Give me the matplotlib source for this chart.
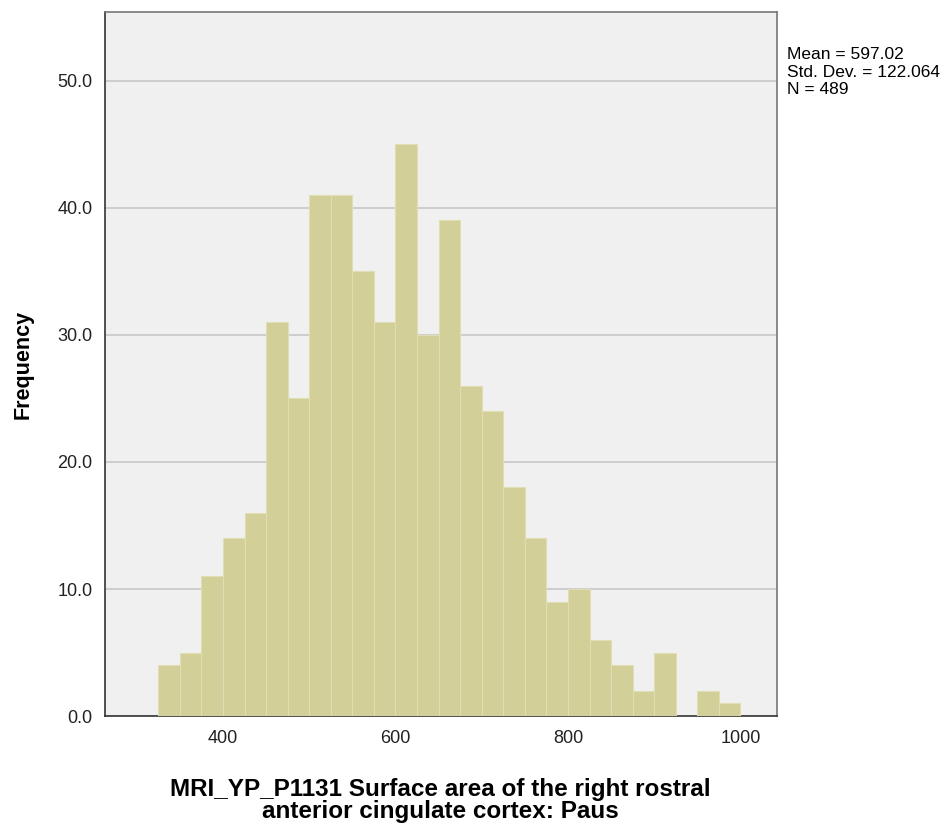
import numpy as np
import matplotlib
matplotlib.use('Agg')
import matplotlib.pyplot as plt

# Histogram bins (lower edges) and counts
BIN_START = 325
BIN_WIDTH = 25
counts = [4, 5, 11, 14, 16, 31, 25, 41, 41, 35, 31, 45, 30, 39,
          26, 24, 18, 14, 9, 10, 6, 4, 2, 5, 0, 2, 1]
bin_edges = BIN_START + BIN_WIDTH * np.arange(len(counts) + 1)

x_ticks = [400, 600, 800, 1000]
y_ticks = [0, 10, 20, 30, 40, 50]

stats_text = 'Mean = 597.02\nStd. Dev. = 122.064\nN = 489'
x_label = ('MRI_YP_P1131 Surface area of the right rostral\n'
           'anterior cingulate cortex: Paus')

plt.rcParams['font.family'] = ['Liberation Sans', 'DejaVu Sans']

fig = plt.figure(figsize=(9.53, 8.27), dpi=100)
ax = fig.add_axes([0.110, 0.134, 0.705, 0.8515])
ax.set_facecolor('#f0f0f0')

ax.bar(bin_edges[:-1], counts, width=BIN_WIDTH, align='edge',
       color='#d3cf98', edgecolor='#e2deb4', linewidth=0.8, zorder=3)

ax.set_xlim(263, 1042)
ax.set_ylim(0, 55.4)
ax.set_xticks(x_ticks)
ax.set_yticks(y_ticks)
ax.set_yticklabels([f'{v:.1f}' for v in y_ticks])
ax.tick_params(axis='both', length=0, labelsize=13, colors='#222222')
ax.tick_params(axis='y', pad=9)
ax.tick_params(axis='x', pad=10)
ax.grid(axis='y', color='#c8c8c8', linewidth=1.2, zorder=1)
ax.set_axisbelow(True)

for side in ['left', 'bottom']:
    ax.spines[side].set_color('#333333')
    ax.spines[side].set_linewidth(1.2)
for side in ['top', 'right']:
    ax.spines[side].set_color('#777777')
    ax.spines[side].set_linewidth(1.2)

ax.set_ylabel('Frequency', fontsize=15.5, fontweight='bold', labelpad=17)
ax.set_xlabel(x_label, fontsize=17.5, fontweight='bold', labelpad=22,
              linespacing=0.95)

fig.text(787 / 953, 1 - 47 / 827, stats_text, fontsize=12.5, va='top',
         ha='left', linespacing=1.22)

fig.savefig('out.png', dpi=100)
plt.close(fig)
